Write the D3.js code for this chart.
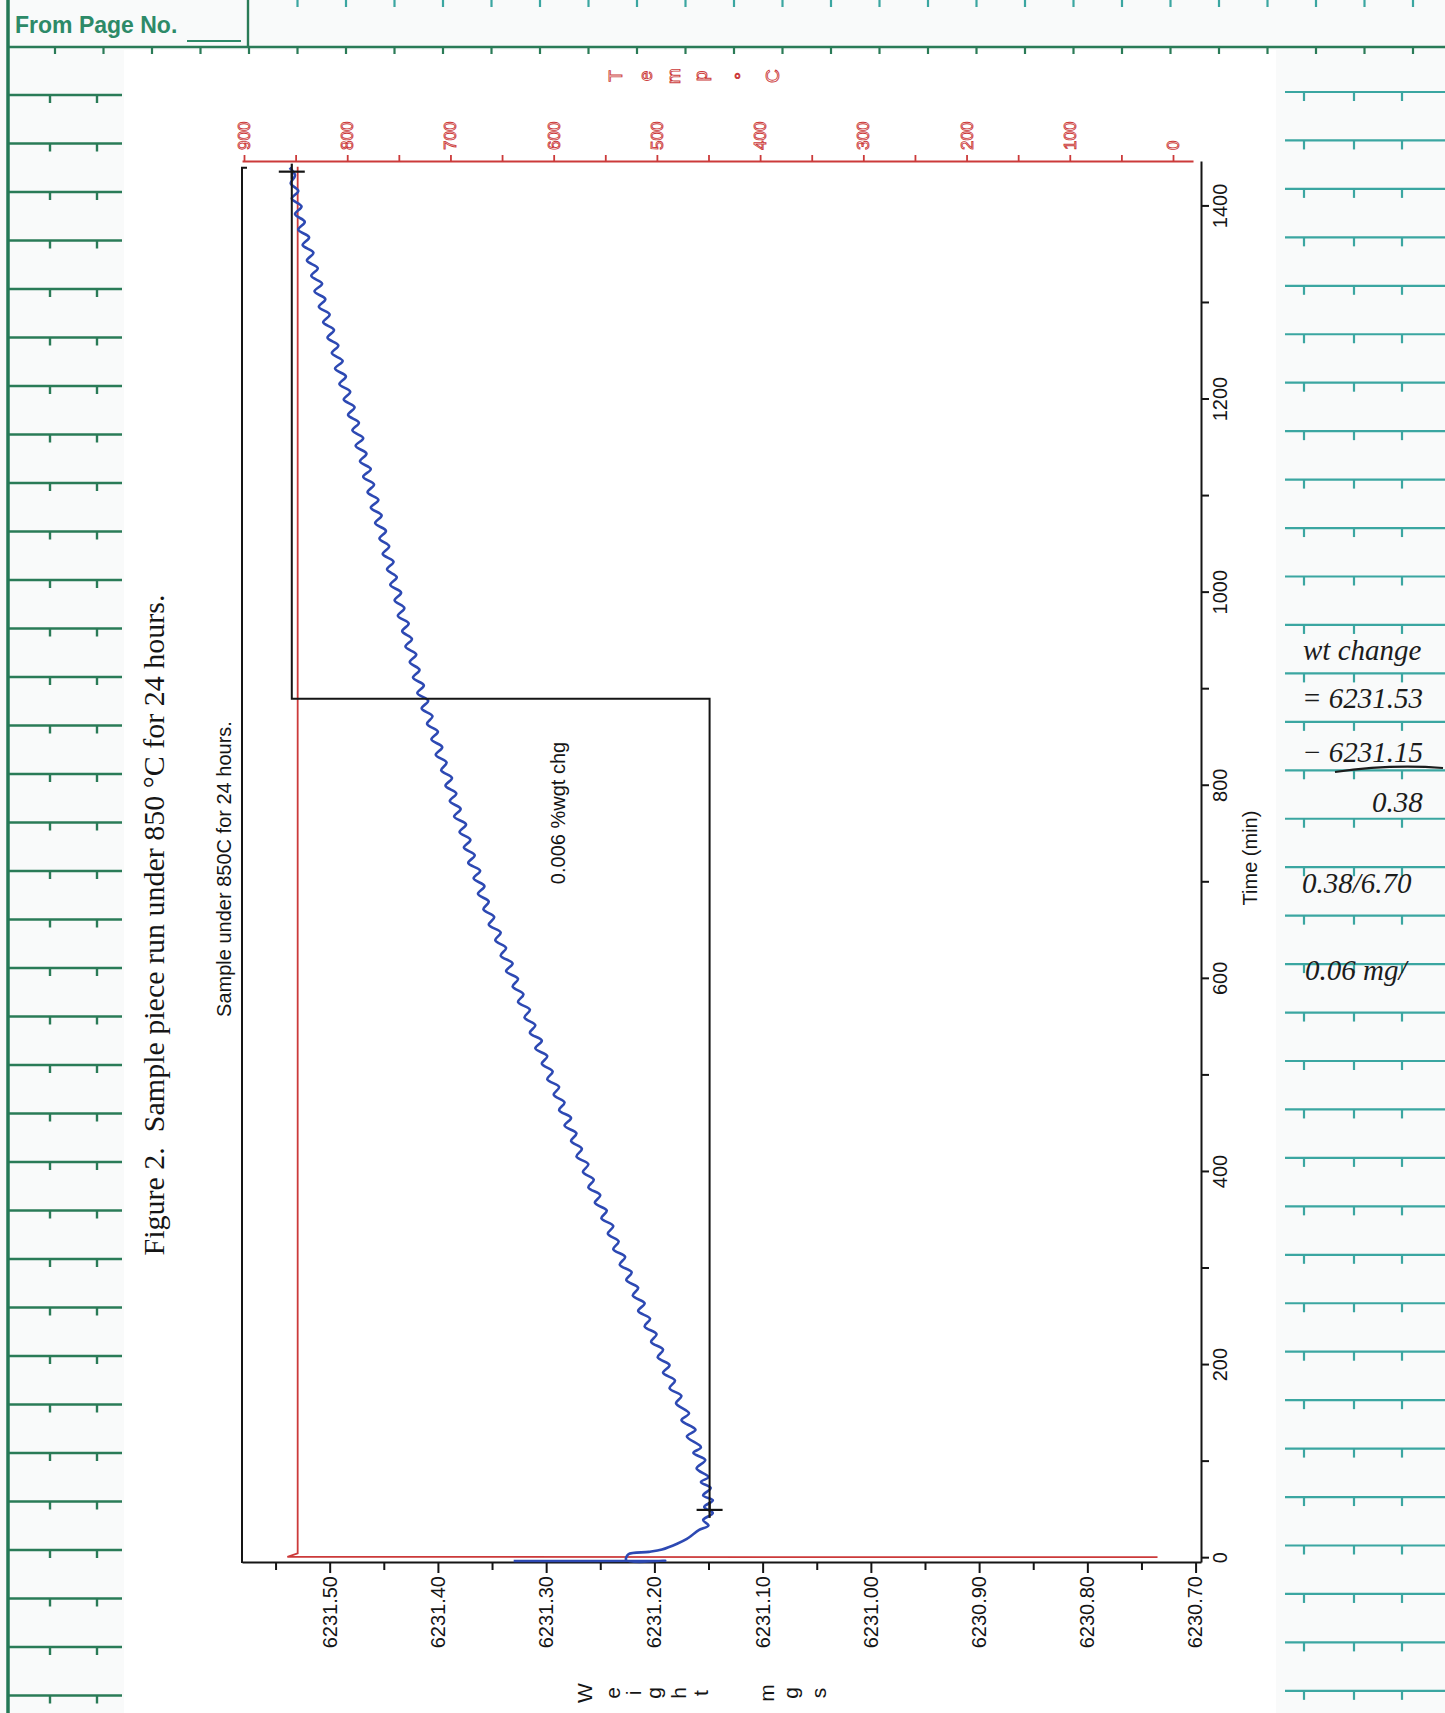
<!DOCTYPE html>
<html><head><meta charset="utf-8">
<script src="https://cdn.jsdelivr.net/npm/d3@7"></script>
<style>body{margin:0;background:#fff}svg{display:block}</style>
</head><body>
<svg id="c" width="1445" height="1713"></svg>
<script>
// ---------------- DATA ----------------
const timeTicks = [0,100,200,300,400,500,600,700,800,900,1000,1100,1200,1300,1400];
const weightTicks = [6230.70,6230.75,6230.80,6230.85,6230.90,6230.95,6231.00,6231.05,6231.10,6231.15,6231.20,6231.25,6231.30,6231.35,6231.40,6231.45,6231.50,6231.55];
const tempTicks = [0,50,100,150,200,250,300,350,400,450,500,550,600,650,700,750,800,850,900];

// Temperature trace (red)
const tempTimes  = [1.0, 1.4, 5, 1441];
const tempValues = [15, 858, 848, 848];

// Weight trace (blue), time in min, weight in mg
const weightTimes = [-3.0,-2.6,-2.2,4.0,6.5,9,15,20,24,29,34,39.5,46.8,53,60,65,72.7,79,84,93,101.7,109,115,126,133,143,150,160.5,
168,176,184,192,200,208,216,224,232,240,248,256,264,272,280,288,296,304,312,320,328,336,344,352,360,368,376,384,392,400,
408,416,424,432,440,448,456,464,472,480,488,496,504,512,520,528,536,544,552,560,568,576,584,592,600,
608,616,624,632,640,648,656,664,672,680,688,696,704,712,720,728,736,744,752,760,768,776,784,792,800,
808,816,824,832,840,848,856,864,872,880,888,896,904,912,920,928,936,944,952,960,968,976,984,992,1000,
1008,1016,1024,1032,1040,1048,1056,1064,1072,1080,1088,1096,1104,1112,1120,1128,1136,1144,1152,1160,1168,1176,1184,1192,1200,
1208,1216,1224,1232,1240,1248,1256,1264,1272,1280,1288,1296,1304,1312,1320,1328,1336,1344,1352,1360,1368,1376,1384,1392,1400,
1408,1416,1424,1432,1440];
const weightValues = [6231.330,6231.190,6231.226,6231.224,6231.205,6231.193,6231.179,6231.170,6231.165,6231.159,6231.150,6231.155,6231.146,6231.154,6231.146,6231.155,6231.148,6231.157,6231.150,6231.161,6231.153,6231.164,6231.157,6231.170,6231.162,6231.175,6231.168,6231.180,
6231.175,6231.186,6231.181,6231.192,6231.186,6231.197,6231.192,6231.203,6231.198,6231.209,6231.204,6231.215,6231.209,6231.220,6231.215,6231.226,6231.221,6231.232,6231.227,6231.238,6231.233,6231.243,6231.238,6231.249,6231.244,6231.255,6231.250,6231.261,6231.256,6231.266,
6231.261,6231.272,6231.267,6231.277,6231.272,6231.283,6231.277,6231.288,6231.283,6231.293,6231.288,6231.299,6231.294,6231.304,6231.299,6231.310,6231.304,6231.315,6231.310,6231.320,6231.315,6231.326,6231.321,6231.331,6231.326,
6231.337,6231.331,6231.342,6231.337,6231.347,6231.342,6231.353,6231.348,6231.358,6231.353,6231.363,6231.357,6231.367,6231.361,6231.372,6231.366,6231.376,6231.370,6231.380,6231.374,6231.385,6231.379,6231.389,6231.383,6231.393,
6231.387,6231.397,6231.392,6231.402,6231.396,6231.406,6231.400,6231.410,6231.405,6231.415,6231.409,6231.419,6231.413,6231.423,6231.417,6231.426,6231.420,6231.430,6231.424,6231.433,6231.427,6231.437,6231.431,6231.440,6231.434,
6231.444,6231.438,6231.447,6231.441,6231.451,6231.445,6231.454,6231.448,6231.458,6231.452,6231.462,6231.455,6231.465,6231.459,6231.469,6231.462,6231.472,6231.466,6231.476,6231.469,6231.479,6231.473,6231.483,6231.477,6231.487,
6231.481,6231.491,6231.485,6231.495,6231.488,6231.498,6231.492,6231.502,6231.496,6231.506,6231.500,6231.510,6231.504,6231.514,6231.507,6231.517,6231.511,6231.521,6231.515,6231.525,6231.519,6231.529,6231.523,6231.532,6231.526,
6231.535,6231.529,6231.536,6231.532,6231.537];

// Weight-change annotation cursors
const cursorTimes   = [1436, 50];
const cursorWeights = [6231.535, 6231.149];
const bracketTime   = 890;

// Texts
const tempTitle   = ["T","e","m","p","°","C"];
const weightTitle = ["W","e","i","g","h","t","m","g","s"];
const noteLines   = ["wt change","= 6231.53","\u2212 6231.15","0.38","0.38/6.70","0.06 mg/"];

// ---------------- PAGE ----------------
const svg = d3.select('#c');
const paperGreen = '#2a7b57', teal = '#3ba6a1', headGreen = '#2d8a68';
svg.append('rect').attr('width',1445).attr('height',1713).attr('fill','#f9fafa');
svg.append('rect').attr('x',124).attr('y',50).attr('width',1152).attr('height',1663).attr('fill','#ffffff');

const deco = svg.append('g').attr('fill','none');
// left margin ruled lines
for (let i = 0; i <= 33; i++) {
  const y = 95 + 48.5 * i;
  deco.append('line').attr('x1',8).attr('x2',122).attr('y1',y).attr('y2',y).attr('stroke',paperGreen).attr('stroke-width',2.4);
  [50,97].forEach(x => deco.append('line').attr('x1',x).attr('x2',x).attr('y1',y).attr('y2',y+8).attr('stroke',paperGreen).attr('stroke-width',2.4));
}
// right margin ruled lines
for (let i = 0; i <= 33; i++) {
  const y = 92 + 48.45 * i;
  deco.append('line').attr('x1',1285).attr('x2',1445).attr('y1',y).attr('y2',y).attr('stroke',teal).attr('stroke-width',2.2);
  [1304,1354,1402].forEach(x => deco.append('line').attr('x1',x).attr('x2',x).attr('y1',y).attr('y2',y+9).attr('stroke',teal).attr('stroke-width',2.2));
}
// header
deco.append('line').attr('x1',8).attr('x2',1445).attr('y1',47).attr('y2',47).attr('stroke',paperGreen).attr('stroke-width',2.4);
for (let x = 55; x < 1445; x += 48.5) {
  deco.append('line').attr('x1',x).attr('x2',x).attr('y1',47).attr('y2',54).attr('stroke',paperGreen).attr('stroke-width',2.2);
  if (x > 260) deco.append('line').attr('x1',x).attr('x2',x).attr('y1',0).attr('y2',7).attr('stroke',teal).attr('stroke-width',2.2);
}
deco.append('line').attr('x1',8).attr('x2',8).attr('y1',0).attr('y2',1713).attr('stroke','#237856').attr('stroke-width',3.5);
deco.append('line').attr('x1',248).attr('x2',248).attr('y1',0).attr('y2',47).attr('stroke',paperGreen).attr('stroke-width',2.4);
svg.append('text').attr('x',15).attr('y',33).text('From Page No.')
  .attr('font-family','Liberation Sans, Arial, sans-serif').attr('font-weight','bold').attr('font-size',23).attr('fill',headGreen);
deco.append('line').attr('x1',187).attr('x2',241).attr('y1',41).attr('y2',41).attr('stroke',headGreen).attr('stroke-width',2);

// handwritten notes
const noteY = [660, 708, 762, 812, 893, 980];
const noteX = [1303, 1302, 1302, 1372, 1302, 1305];
const notes = svg.append('g').attr('font-family','Liberation Serif, Times New Roman, serif').attr('font-style','italic')
  .attr('font-size',29).attr('fill','#1c1c1c');
noteLines.forEach((t,i) => notes.append('text').attr('x',noteX[i]).attr('y',noteY[i]).text(t));
svg.append('path').attr('d','M1335,772 Q1390,764 1443,768').attr('fill','none').attr('stroke','#1c1c1c').attr('stroke-width',2.2);

// ---------------- CHART (drawn in original orientation, rotated -90°) ----------------
const g = svg.append('g').attr('transform','translate(0,1713) rotate(-90)');
const FONT = 'Liberation Sans, Arial, sans-serif';
const red = '#cc3a3a', ink = '#151515', blue = '#2d49b3';

const xTime = d3.scaleLinear().domain([-5, 1446]).range([150, 1551]);
const yW    = d3.scaleLinear().domain([6230.695, 6231.581]).range([1201, 242]);
const yTemp = d3.scaleLinear().domain([0, 900]).range([1173, 244]);
const yTempAxis = yTemp.copy().domain([-19.4, 901.9]).range([yTemp(-19.4), yTemp(901.9)]);

// Time axis (original bottom)
const tAx = g.append('g').attr('transform','translate(0,1201)')
  .call(d3.axisBottom(xTime).tickValues(timeTicks).tickSize(8).tickSizeOuter(0).tickPadding(4)
  .tickFormat(d => d % 200 === 0 ? d : ''));
// Weight axis (original left)
const isMajorW = d => Math.round(d * 100) % 10 === 0;
const wAx = g.append('g').attr('transform','translate(150,0)')
  .call(d3.axisLeft(yW).tickValues(weightTicks).tickSize(10).tickSizeOuter(0).tickPadding(3)
  .tickFormat(d => isMajorW(d) ? d3.format('.2f')(d) : ''));
wAx.selectAll('.tick line').filter(d => !isMajorW(d)).attr('x2', -7);
// Temperature axis (original right)
const tpAx = g.append('g').attr('transform','translate(1551,0)')
  .call(d3.axisRight(yTempAxis).tickValues(tempTicks).tickSize(7).tickSizeOuter(0).tickPadding(5)
  .tickFormat(d => d % 100 === 0 ? d : ''));

[tAx, wAx].forEach(a => {
  a.attr('font-family', FONT).attr('font-size', 20);
  a.selectAll('path, line').attr('stroke', ink).attr('stroke-width', 2);
  a.selectAll('text').attr('fill', ink);
});
tpAx.attr('font-family', FONT).attr('font-size', 17);
tpAx.selectAll('path, line').attr('stroke', red).attr('stroke-width', 1.8);
tpAx.selectAll('text').attr('fill', 'none').attr('stroke', red).attr('stroke-width', 0.9);

// frame line (original top)
g.append('path').attr('fill','none').attr('stroke',ink).attr('stroke-width',2)
  .attr('d', `M${xTime(-5)},${yW.range()[1]} L${xTime(1440)},${yW.range()[1]} L${xTime(1440)},${yW.range()[1]+5}`);

// temperature trace
const tempData = tempTimes.map((t,i) => [t, tempValues[i]]);
g.append('path').datum(tempData).attr('fill','none').attr('stroke',red).attr('stroke-width',1.8)
  .attr('d', d3.line().x(d => xTime(d[0])).y(d => yTemp(d[1])));

// weight trace
const wData = weightTimes.map((t,i) => [t, weightValues[i]]);
g.append('path').datum(wData).attr('fill','none').attr('stroke',blue).attr('stroke-width',2.6)
  .attr('stroke-linejoin','round')
  .attr('d', d3.line().curve(d3.curveCatmullRom.alpha(0.5)).x(d => xTime(d[0])).y(d => yW(d[1])));

// weight-change bracket + cursors
g.append('path').attr('fill','none').attr('stroke',ink).attr('stroke-width',2)
  .attr('d', `M${xTime(cursorTimes[0])},${yW(cursorWeights[0])} L${xTime(bracketTime)},${yW(cursorWeights[0])}`
    + ` L${xTime(bracketTime)},${yW(cursorWeights[1])} L${xTime(cursorTimes[1])},${yW(cursorWeights[1])}`);
cursorTimes.forEach((t,i) => {
  const X = xTime(t), Y = yW(cursorWeights[i]);
  g.append('line').attr('x1',X).attr('x2',X).attr('y1',Y-13).attr('y2',Y+13).attr('stroke',ink).attr('stroke-width',2.2);
  g.append('line').attr('x1',X-8).attr('x2',X+8).attr('y1',Y).attr('y2',Y).attr('stroke',ink).attr('stroke-width',2.2);
});

// texts
g.append('text').attr('x',855).attr('y',1257).attr('text-anchor','middle').attr('font-family',FONT).attr('font-size',20)
  .attr('fill',ink).text('Time (min)');
g.append('text').attr('x',844).attr('y',231).attr('text-anchor','middle').attr('font-family',FONT).attr('font-size',20)
  .attr('fill',ink).text('Sample under 850C for 24 hours.');
g.append('text').attr('x',900).attr('y',565).attr('text-anchor','middle').attr('font-family',FONT).attr('font-size',20)
  .attr('fill',ink).text('0.006 %wgt chg');
g.append('text').attr('x',788).attr('y',164).attr('text-anchor','middle')
  .attr('font-family','Liberation Serif, Times New Roman, serif').attr('font-size',30).attr('fill',ink)
  .style('white-space','pre').text('Figure 2.  Sample piece run under 850 \u00B0C for 24 hours.');

const tempTitleY = [615, 645, 673, 700, 741, 772];
tempTitle.forEach((c,i) => g.append('text').attr('x',1637).attr('y',tempTitleY[i]).attr('text-anchor','middle')
  .attr('dominant-baseline','central').attr('font-family',FONT).attr('font-size',19)
  .attr('fill','none').attr('stroke',red).attr('stroke-width',0.9).text(c));
const weightTitleY = [584, 612, 633, 653, 678, 700, 766, 790, 818];
weightTitle.forEach((c,i) => g.append('text').attr('x',20).attr('y',weightTitleY[i]).attr('text-anchor','middle')
  .attr('dominant-baseline','central').attr('font-family',FONT).attr('font-size',21).attr('fill',ink).text(c));
</script>
</body></html>
